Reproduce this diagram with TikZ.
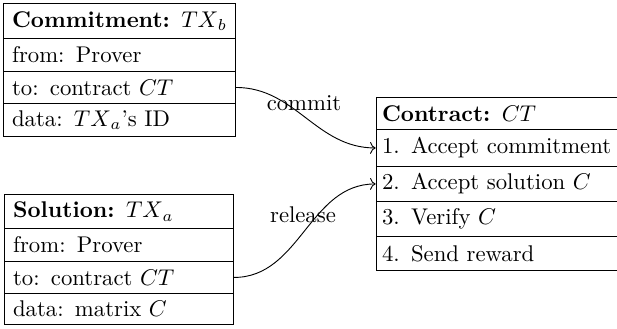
\documentclass[tikz,border=0pt]{standalone}
\usetikzlibrary{arrows.meta}
\begin{document}
\begin{tikzpicture}[x=0.44pt,y=-0.44pt,
  cell/.style n args={3}{draw, line width=0.4pt, rectangle, anchor=north west,
    inner xsep=3.8pt, inner ysep=0pt, align=left,
    minimum width=#1, minimum height=#2, text width=#3},
  kcell/.style n args={2}{cell={115pt}{#1}{#2}, inner xsep=2.6pt},
  lbl/.style={inner sep=0pt},
  conn/.style={->, line width=0.4pt}]
\useasboundingbox (0,0) rectangle (617,329);
\clip (0,0) rectangle (617,329);
% Commitment
\node[cell={102.08pt}{15.4pt}{94.48pt}] (c0) at (3,3) {\mbox{\textbf{Commitment:} $TX_{\kern0.6pt b}$}};
\node[cell={102.08pt}{14.52pt}{94.48pt}] (c1) at (3,38) {from: Prover};
\node[cell={102.08pt}{14.08pt}{94.48pt}] (c2) at (3,71) {to: contract $CT$};
\node[cell={102.08pt}{14.52pt}{94.48pt}] (c3) at (3,103) {data: $TX_{\kern0.6pt a}$'s ID};
% Solution
\node[cell={100.76pt}{14.96pt}{93.16pt}] (s0) at (4,194) {\mbox{\textbf{Solution:} $TX_{\kern0.6pt a}$}};
\node[cell={100.76pt}{14.52pt}{93.16pt}] (s1) at (4,228) {from: Prover};
\node[cell={100.76pt}{14.08pt}{93.16pt}] (s2) at (4,261) {to: contract $CT$};
\node[cell={100.76pt}{13.64pt}{93.16pt}] (s3) at (4,293) {data: matrix $C$};
% Contract
\node[kcell={14.08pt}{109.8pt}] (k0) at (375.7,97) {\textbf{Contract:} $CT$};
\node[kcell={16.28pt}{109.8pt}] (k1) at (375.7,129) {1. Accept commitment};
\node[kcell={15.4pt}{109.8pt}] (k2) at (375.7,166) {2. Accept solution $C$};
\node[kcell={15.4pt}{109.8pt}] (k3) at (375.7,201) {3. Verify $C$};
\node[kcell={14.96pt}{109.8pt}] (k4) at (375.7,236) {4. Send reward};
% connectors
\draw[conn] (c2.east) to[out=0,in=180] (k1.west);
\draw[conn] (s2.east) to[out=0,in=180] (k2.west);
\node[lbl] (lcommit) at (304,103) {commit};
\node[lbl] (lrelease) at (303,215) {release};
\end{tikzpicture}
\end{document}
